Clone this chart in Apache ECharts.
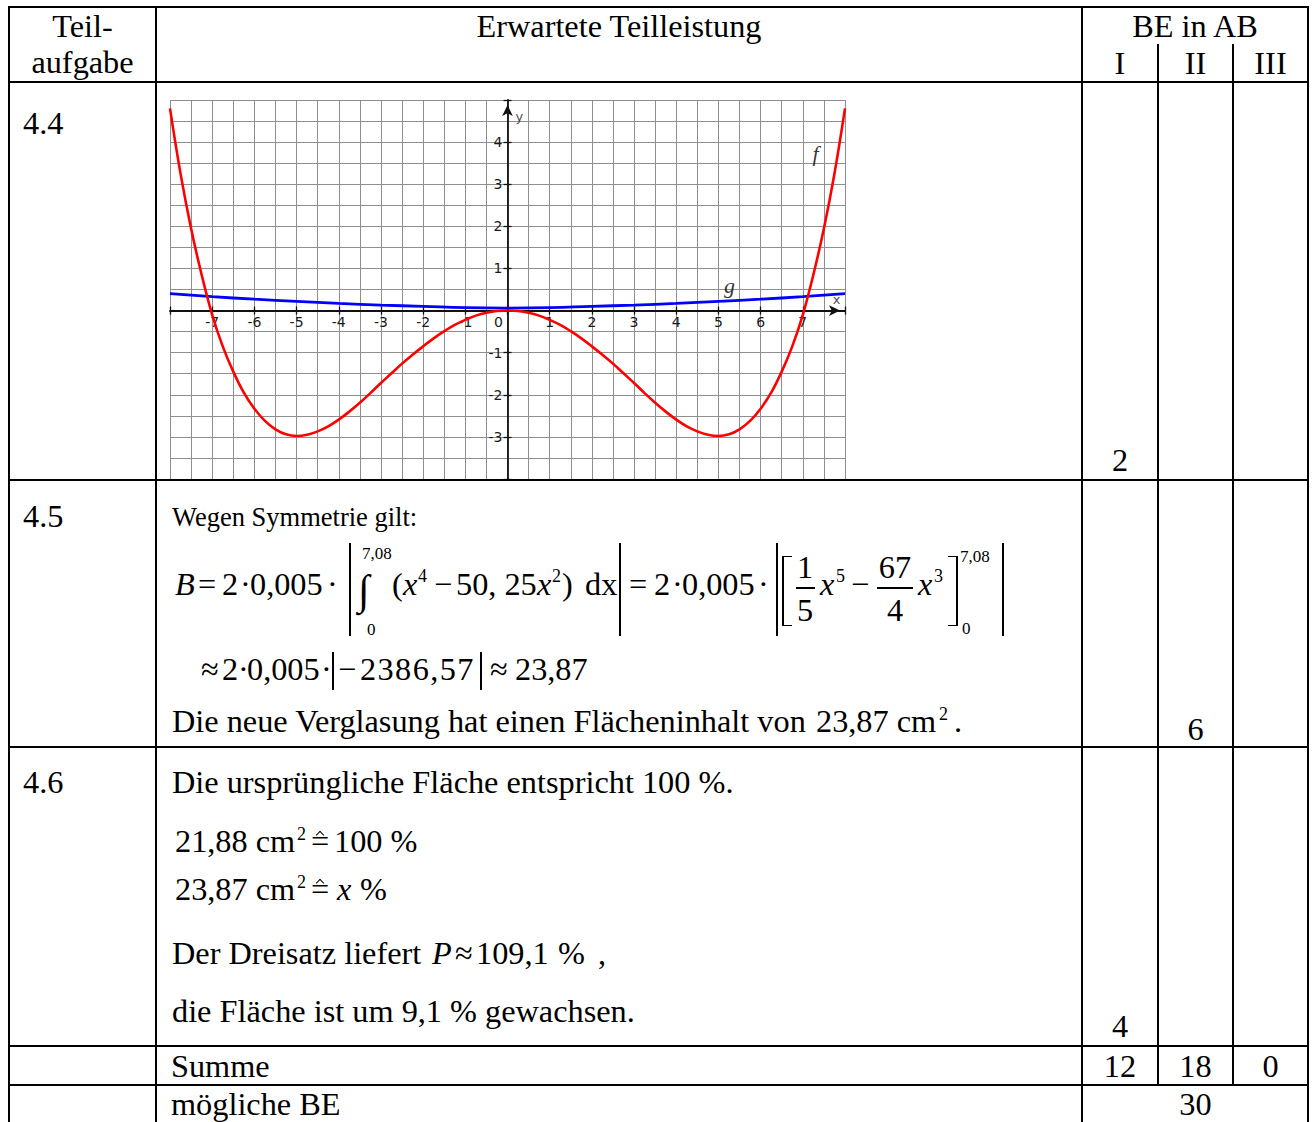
<!DOCTYPE html>
<html>
<head>
<meta charset="utf-8">
<title>Teilaufgabe 4.4 - 4.6</title>
<script src="https://cdn.jsdelivr.net/npm/echarts@6/dist/echarts.min.js"></script>
<style>
  html, body { margin: 0; padding: 0; background: #fff; }
  #page { position: relative; width: 1314px; height: 1122px; overflow: hidden;
          font-family: "Liberation Serif", "Times New Roman", serif; color: #000; }
  #chart { position: absolute; left: 160px; top: 92px; width: 700px; height: 395px; }
  .t { position: absolute; white-space: nowrap; line-height: 1; }
  .ln { position: absolute; background: #000; }
  .hat { position: absolute; width: 6px; height: 6px; box-sizing: border-box;
         border-left: 1.4px solid #000; border-top: 1.4px solid #000; transform: rotate(45deg); }
</style>
</head>
<body>
<div id="page"><div id="chart"></div></div>
<script>
// Achsen
var xMin = -8, xMax = 8, yMin = -4, yMax = 5;
var xTickLabels = [-7, -6, -5, -4, -3, -2, -1, 0, 1, 2, 3, 4, 5, 6, 7];
var yTickLabels = [-3, -2, -1, 1, 2, 3, 4];

// Graph f (rot)
var fX = [-8, -7.75, -7.5, -7.25, -7, -6.75, -6.5, -6.25, -6, -5.75, -5.5, -5.25, -5, -4.75, -4.5, -4.25, -4,
          -3.75, -3.5, -3.25, -3, -2.75, -2.5, -2.25, -2, -1.75, -1.5, -1.25, -1, -0.75, -0.5, -0.25,
          0, 0.25, 0.5, 0.75, 1, 1.25, 1.5, 1.75, 2, 2.25, 2.5, 2.75, 3, 3.25, 3.5, 3.75,
          4, 4.25, 4.5, 4.75, 5, 5.25, 5.5, 5.75, 6, 6.25, 6.5, 6.75, 7, 7.25, 7.5, 7.75, 8];
var fY = [4.8, 3.25, 1.95, 0.85, -0.1, -0.85, -1.45, -1.95, -2.33, -2.62, -2.82, -2.94, -2.98, -2.95, -2.87, -2.75, -2.59,
          -2.4, -2.19, -1.96, -1.72, -1.49, -1.26, -1.05, -0.85, -0.66, -0.49, -0.34, -0.22, -0.12, -0.05, -0.01,
          0, -0.01, -0.05, -0.12, -0.22, -0.34, -0.49, -0.66, -0.85, -1.05, -1.26, -1.49, -1.72, -1.96, -2.19, -2.4,
          -2.59, -2.75, -2.87, -2.95, -2.98, -2.94, -2.82, -2.62, -2.33, -1.95, -1.45, -0.85, -0.1, 0.85, 1.95, 3.25, 4.8];

// Graph g (blau)
var gX = [-8, -7, -6, -5, -4, -3, -2, -1, 0, 1, 2, 3, 4, 5, 6, 7, 8];
var gY = [0.4, 0.33, 0.27, 0.22, 0.17, 0.13, 0.1, 0.07, 0.06, 0.07, 0.1, 0.13, 0.17, 0.22, 0.27, 0.33, 0.4];

// Beschriftungen im Koordinatensystem
var curveNames = [[7.3, 3.74, 'f'], [5.26, 0.6, 'g']];
var axisNames = [[0.28, 4.62, 'y'], [7.8, 0.27, 'x']];

var axisColor = '#111';
var gridColor = '#8e8e8e';
var tickFont = { fontFamily: 'DejaVu Sans', fontSize: 14, color: '#1a1a1a' };

var gridW = 675, gridH = 379;
// Achsen liegen auf den Nulllinien
var xAxisOffset = -gridH * (0 - yMin) / (yMax - yMin);
var yAxisOffset = -gridW * (0 - xMin) / (xMax - xMin);

function pairs(xs, ys) {
  return xs.map(function (x, i) { return [x, ys[i]]; });
}

var myChart = echarts.init(document.getElementById('chart'), null, { renderer: 'svg' });
var tickStyle = { color: axisColor, width: 1.3 };
var option = {
  animation: false,
  grid: { left: 10, top: 8, width: gridW, height: gridH, outerBoundsMode: 'none', containLabel: false },
  xAxis: [{
    type: 'value', min: xMin, max: xMax, interval: 1, position: 'bottom', offset: xAxisOffset,
    axisLine: {
      onZero: false,
      symbol: ['none', 'arrow'], symbolSize: [8, 11], symbolOffset: [0, -5],
      lineStyle: { color: axisColor, width: 1.8 }
    },
    axisTick: { length: 4, lineStyle: tickStyle },
    minorTick: { show: false, splitNumber: 2 },
    splitLine: { show: true, lineStyle: { color: gridColor, width: 1 } },
    minorSplitLine: { show: true, lineStyle: { color: gridColor, width: 1 } },
    axisLabel: Object.assign({
      margin: 4,
      formatter: function (v) {
        if (v === 0) return '{z|0}';
        return xTickLabels.indexOf(v) >= 0 ? String(v) : '';
      },
      rich: { z: Object.assign({ padding: [0, 18, 0, 0] }, tickFont) }
    }, tickFont)
  }, {
    // Gegenstriche nach oben
    type: 'value', min: xMin, max: xMax, interval: 1, position: 'bottom', offset: xAxisOffset,
    axisLine: { show: false, onZero: false },
    axisTick: { inside: true, length: 4, lineStyle: tickStyle },
    axisLabel: { show: false }, splitLine: { show: false }
  }],
  yAxis: [{
    type: 'value', min: yMin, max: yMax, interval: 1, position: 'left', offset: yAxisOffset,
    axisLine: {
      onZero: false,
      symbol: ['none', 'arrow'], symbolSize: [8, 11], symbolOffset: [0, -5],
      lineStyle: { color: axisColor, width: 1.8 }
    },
    axisTick: { length: 4, lineStyle: tickStyle },
    minorTick: { show: false, splitNumber: 2 },
    splitLine: { show: true, lineStyle: { color: gridColor, width: 1 } },
    minorSplitLine: { show: true, lineStyle: { color: gridColor, width: 1 } },
    axisLabel: Object.assign({
      margin: 5,
      formatter: function (v) { return yTickLabels.indexOf(v) >= 0 ? String(v) : ''; }
    }, tickFont)
  }, {
    type: 'value', min: yMin, max: yMax, interval: 1, position: 'left', offset: yAxisOffset,
    axisLine: { show: false, onZero: false },
    axisTick: { inside: true, length: 4, lineStyle: tickStyle },
    axisLabel: { show: false }, splitLine: { show: false }
  }],
  series: [{
    name: 'g', type: 'line', data: pairs(gX, gY), smooth: true, showSymbol: false,
    lineStyle: { color: '#0000ff', width: 2.8 }, z: 3
  }, {
    name: 'f', type: 'line', data: pairs(fX, fY), smooth: 0.4, showSymbol: false,
    lineStyle: { color: '#ff0000', width: 2.6 }, z: 4
  }, {
    type: 'scatter', data: curveNames, symbolSize: 0, silent: true,
    label: { show: true, position: 'inside', formatter: function (p) { return p.data[2]; },
             fontFamily: 'Liberation Serif', fontStyle: 'italic', fontSize: 22, color: '#000' }
  }, {
    type: 'scatter', data: axisNames, symbolSize: 0, silent: true,
    label: { show: true, position: 'inside', formatter: function (p) { return p.data[2]; },
             fontFamily: 'DejaVu Sans', fontSize: 13, color: '#1a1a1a' }
  }]
};
myChart.setOption(option);

// ---- Tabelle ----
var page = document.getElementById('page');
var TS = 32.3;

function put(txt, x, base, o) {
  o = o || {};
  var fs = o.fs || TS;
  var d = document.createElement('div');
  d.className = 't';
  d.textContent = txt;
  d.style.fontSize = fs + 'px';
  d.style.left = x + 'px';
  d.style.top = (base - 0.8375 * fs) + 'px';
  if (o.it) d.style.fontStyle = 'italic';
  if (o.ls) d.style.letterSpacing = o.ls + 'px';
  if (o.c) d.style.transform = 'translateX(-50%)';
  page.appendChild(d);
}
function hl(x1, x2, y, w) {
  w = w || 2;
  var d = document.createElement('div');
  d.className = 'ln';
  d.style.left = x1 + 'px'; d.style.width = (x2 - x1) + 'px';
  d.style.top = (y - w / 2) + 'px'; d.style.height = w + 'px';
  page.appendChild(d);
}
function vl(x, y1, y2, w) {
  w = w || 2;
  var d = document.createElement('div');
  d.className = 'ln';
  d.style.left = (x - w / 2) + 'px'; d.style.width = w + 'px';
  d.style.top = y1 + 'px'; d.style.height = (y2 - y1) + 'px';
  page.appendChild(d);
}
// "entspricht"-Zeichen: = mit Dach
function corr(x, base) {
  put('=', x, base);
  var h = document.createElement('div');
  h.className = 'hat';
  h.style.left = (x + 6) + 'px';
  h.style.top = (base - 20) + 'px';
  page.appendChild(h);
}

// Rahmen
var rowY = [82, 480, 747, 1046, 1085];
hl(8, 1309, 7);
rowY.forEach(function (y) { hl(8, 1309, y); });
vl(9, 6, 1122); vl(156, 6, 1122); vl(1082, 6, 1122); vl(1308, 6, 1122);
vl(1158, 44, 1086); vl(1233, 44, 1086);

// Kopf
put('Teil-', 82.5, 37, { c: 1 });
put('aufgabe', 82.5, 73, { c: 1 });
put('Erwartete Teilleistung', 619, 37, { c: 1 });
put('BE in AB', 1195, 37, { c: 1 });
put('I', 1120, 74, { c: 1 });
put('II', 1195.5, 74, { c: 1 });
put('III', 1270.5, 74, { c: 1 });

// Nummern und Punkte
put('4.4', 23, 134);
put('4.5', 23, 527);
put('4.6', 23, 793);
put('2', 1120, 471, { c: 1 });
put('6', 1195.5, 740, { c: 1 });
put('4', 1120, 1037, { c: 1 });
put('Summe', 171, 1077);
put('12', 1120, 1077, { c: 1 });
put('18', 1195.5, 1077, { c: 1 });
put('0', 1270.5, 1077, { c: 1 });
put('mögliche BE', 171, 1115);
put('30', 1195.5, 1115, { c: 1 });

// 4.5
put('Wegen Symmetrie gilt:', 172, 526, { fs: 26.5 });
var EB = 595, SUP = 18;
put('B', 175, EB, { it: 1 });
put('=', 198, EB); put('2', 222, EB); put('·', 240, EB); put('0,005', 250, EB); put('·', 327, EB);
vl(350, 543, 636, 1.5);
put('7,08', 362, 559, { fs: 17 });
put('∫', 358, 604, { fs: 42 });
put('0', 367, 635, { fs: 17 });
put('(', 392, EB); put('x', 403, EB, { it: 1 }); put('4', 418, 582, { fs: SUP });
put('−', 434, EB); put('50, 25', 456, EB); put('x', 537, EB, { it: 1 }); put('2', 552, 582, { fs: SUP });
put(')', 562, EB); put('dx', 585, EB);
vl(620, 543, 636, 1.5);
put('=', 629, EB); put('2', 654, EB); put('·', 672, EB); put('0,005', 682, EB); put('·', 758, EB);
vl(777, 543, 636, 1.5);
vl(783, 556, 626, 1.5); hl(783, 792, 556.5, 1.5); hl(783, 792, 625.5, 1.5);
put('1', 805, 578, { c: 1 }); hl(796, 815, 588, 1.3); put('5', 805, 621, { c: 1 });
put('x', 820, EB, { it: 1 }); put('5', 836, 582, { fs: SUP });
put('−', 851, EB);
put('67', 895, 578, { c: 1 }); hl(877, 913, 588, 1.3); put('4', 895, 621, { c: 1 });
put('x', 918, EB, { it: 1 }); put('3', 934, 582, { fs: SUP });
vl(957, 556, 626, 1.5); hl(948, 957, 556.5, 1.5); hl(948, 957, 625.5, 1.5);
put('7,08', 960, 562, { fs: 17 });
put('0', 962, 634, { fs: 17 });
vl(1003, 543, 636, 1.5);

var E2 = 680;
put('≈', 201, E2); put('2', 222, E2); put('·', 238, E2); put('0,005', 247, E2); put('·', 321, E2);
vl(333, 652, 690, 1.5);
put('−', 338, E2); put('2386,57', 360, E2, { ls: 1.4 });
vl(481, 652, 690, 1.5);
put('≈', 490, E2); put('23,87', 515, E2);

put('Die neue Verglasung hat einen Flächeninhalt von', 172, 732);
put('23,87 cm', 816, 732); put('2', 939, 720, { fs: SUP }); put('.', 954, 732);

// 4.6
put('Die ursprüngliche Fläche entspricht 100 %.', 172, 793);
put('21,88 cm', 175, 852); put('2', 297, 840, { fs: SUP }); corr(311, 852); put('100 %', 334, 852);
put('23,87 cm', 175, 900); put('2', 297, 888, { fs: SUP }); corr(311, 900);
put('x', 337, 900, { it: 1 }); put('%', 360, 900);
put('Der Dreisatz liefert', 172, 964);
put('P', 432, 964, { it: 1 }); put('≈', 455, 964); put('109,1', 476, 964); put('%', 558, 964); put(',', 598, 964);
put('die Fläche ist um 9,1 % gewachsen.', 172, 1022);

window.addEventListener('resize', function () { myChart.resize(); });
</script>
</body>
</html>
